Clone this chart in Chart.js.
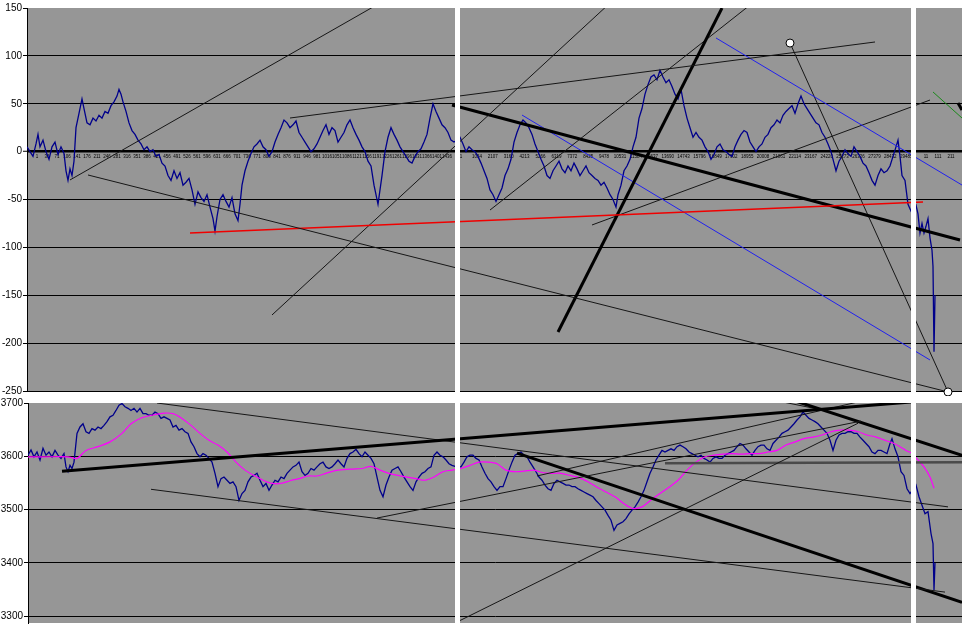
<!DOCTYPE html>
<html><head><meta charset="utf-8">
<script src="https://cdn.jsdelivr.net/npm/chart.js@4.4.1/dist/chart.umd.min.js"></script>
<style>
html,body{margin:0;padding:0;background:#fff;width:962px;height:626px;overflow:hidden}
#topc{position:absolute;left:0;top:0;width:962px;height:396px}
#botc{position:absolute;left:0;top:392px;width:962px;height:234px}
</style></head><body>
<canvas id="topc" width="962" height="396"></canvas>
<canvas id="botc" width="962" height="234"></canvas>
<script>
// ---------- upper panel: spread series ----------
const topIdx = [
27,30,33,36,38,40,43,46,49,52,
55,58,61,64,66,68,70,72,74,76,
79,82,84,87,90,93,96,99,102,105,
108,111,114,117,119,121,123,126,129,132,
135,138,141,144,147,150,153,156,159,162,
165,168,171,174,177,180,183,186,189,192,
195,198,201,204,207,210,213,215,217,220,
223,226,229,232,235,238,240,242,245,248,
251,254,257,260,263,266,269,272,275,278,
281,284,287,290,293,296,299,302,305,308,
311,314,317,320,323,326,329,332,335,338,
341,344,347,350,353,356,359,362,365,368,
371,374,376,378,380,382,385,388,391,394,
397,400,403,406,409,412,415,418,421,424,
427,430,433,436,439,442,445,448,451,454,
457,460,463,466,469,472,475,478,481,484,
487,490,493,496,499,502,505,508,511,514,
517,520,523,526,529,532,535,538,541,544,
547,550,553,556,559,562,565,568,571,574,
577,580,583,586,589,592,595,598,601,604,
607,610,613,616,618,621,624,627,630,633,
636,639,642,645,648,651,654,657,660,663,
666,669,672,675,678,681,684,687,690,693,
696,699,702,705,708,711,714,717,720,723,
726,729,732,735,738,741,744,747,750,753,
756,759,762,765,768,771,774,777,780,783,
786,789,792,795,798,801,804,807,810,813,
816,819,822,825,828,831,834,836,839,842,
845,848,851,854,857,860,863,866,869,872,
875,878,881,884,887,890,893,896,898,900,
902,905,908,911,916,918,920,922,924,926,
928,930,932,933,934,935];
const topVal = [
5,0,-5,8,18,5,12,0,-8,5,
10,-3,5,-2,-20,-30,-18,-25,-10,25,
40,55,45,30,28,35,32,38,35,42,
40,48,52,58,65,60,52,42,30,22,
18,12,8,2,5,0,2,-5,-3,-12,
-15,-25,-30,-20,-28,-22,-35,-32,-28,-40,
-55,-42,-48,-52,-45,-58,-70,-83,-68,-50,
-45,-52,-58,-48,-65,-72,-55,-35,-20,-10,
-2,5,8,12,5,2,-5,0,10,18,
25,33,30,25,28,32,20,15,10,5,
0,3,8,15,22,28,18,25,22,10,
15,20,28,33,25,18,12,5,0,-10,
-15,-35,-45,-55,-40,-25,0,15,25,18,
12,5,0,-5,-10,-12,-5,0,3,10,
18,35,50,42,35,28,25,20,12,10,
12,15,8,0,5,2,0,-5,-12,-20,
-28,-40,-45,-52,-45,-38,-25,-18,-8,10,
20,28,33,30,25,18,8,0,-8,-15,
-25,-28,-20,-15,-10,-18,-22,-15,-20,-12,
-18,-25,-20,-15,-22,-25,-28,-30,-35,-32,
-38,-45,-50,-58,-45,-35,-20,-15,-8,5,
15,35,45,60,70,78,80,75,85,78,
72,75,68,60,55,65,48,35,25,15,
20,15,12,5,0,-8,-3,5,8,2,
0,-3,-5,5,12,18,22,20,10,5,
0,5,8,15,18,25,28,33,30,38,
42,45,48,40,50,58,50,45,40,35,
30,28,20,15,8,0,-12,-20,-10,-5,
2,-2,-5,5,0,-5,-12,-15,-22,-30,
-35,-25,-18,-22,-20,-15,-5,5,12,-5,
-25,-30,-55,-62,-56,-65,-85,-75,-85,-78,
-70,-90,-103,-120,-209,-150];

// ---------- lower panel: price and moving average ----------
const botIdx = [
28,31,34,37,40,43,46,49,52,55,
58,61,64,66,68,70,72,74,77,80,
83,86,89,92,95,98,101,104,107,110,
113,116,119,122,125,128,131,134,137,140,
143,146,149,152,155,158,161,164,167,170,
173,176,179,182,185,188,191,194,197,200,
203,206,209,212,215,218,221,224,227,230,
233,236,239,242,245,248,251,254,257,260,
263,266,269,272,275,278,281,284,287,290,
293,296,299,302,305,308,311,314,317,320,
323,326,329,332,335,338,341,344,347,350,
353,356,359,362,365,368,371,374,377,380,
383,386,389,392,395,398,401,404,407,410,
413,416,419,422,425,428,431,434,437,440,
443,446,449,452,455,461,464,467,470,473,
476,479,482,485,488,491,494,497,500,503,
506,509,512,515,518,521,524,527,530,533,
536,539,542,545,548,551,554,557,560,563,
566,569,572,575,578,581,584,587,590,593,
596,599,602,605,608,611,614,617,620,623,
626,629,632,635,638,641,644,647,650,653,
656,659,662,665,668,671,674,677,680,683,
686,689,692,695,698,701,704,707,710,713,
716,719,722,725,728,731,734,737,740,743,
746,749,752,755,758,761,764,767,770,773,
776,779,782,785,788,791,794,797,800,803,
806,809,812,815,818,821,824,827,830,833,
836,839,842,845,848,851,854,857,860,863,
866,869,872,875,878,881,884,887,890,892,
895,898,901,904,907,910,916,919,922,925,
928,931,933,934,935];
const botPrice = [
3602,3612,3599,3608,3593,3615,3602,3608,3599,3611,
3602,3596,3605,3580,3571,3583,3577,3589,3643,3655,
3661,3646,3643,3652,3649,3655,3652,3658,3665,3674,
3677,3686,3696,3699,3693,3690,3686,3690,3683,3690,
3680,3680,3677,3677,3683,3680,3671,3674,3671,3668,
3655,3658,3649,3652,3646,3643,3627,3618,3605,3599,
3605,3602,3596,3589,3568,3543,3558,3561,3555,3549,
3552,3543,3517,3530,3536,3552,3561,3564,3568,3555,
3543,3549,3536,3546,3555,3552,3561,3558,3568,3574,
3580,3583,3589,3571,3564,3568,3577,3574,3580,3586,
3589,3580,3577,3580,3586,3593,3586,3580,3596,3605,
3608,3613,3605,3599,3608,3602,3596,3586,3561,3536,
3524,3546,3561,3574,3577,3580,3571,3561,3552,3543,
3536,3552,3561,3568,3571,3577,3580,3602,3608,3602,
3599,3593,3586,3583,3581,3580,3589,3599,3602,3602,
3596,3593,3580,3568,3558,3552,3543,3536,3543,3543,
3558,3574,3589,3602,3605,3608,3602,3599,3589,3580,
3571,3561,3555,3546,3539,3536,3549,3555,3552,3549,
3546,3546,3543,3543,3539,3536,3533,3530,3527,3524,
3517,3511,3505,3499,3489,3480,3461,3471,3474,3477,
3483,3492,3499,3505,3514,3524,3536,3552,3568,3580,
3593,3602,3611,3608,3611,3614,3611,3618,3621,3618,
3614,3608,3605,3602,3599,3602,3596,3593,3589,3596,
3599,3596,3596,3602,3605,3608,3611,3618,3624,3621,
3614,3608,3602,3611,3618,3621,3621,3614,3611,3624,
3630,3636,3643,3646,3649,3655,3661,3668,3674,3683,
3677,3671,3668,3665,3661,3655,3649,3643,3630,3611,
3630,3640,3643,3643,3646,3646,3643,3643,3636,3630,
3624,3618,3608,3605,3611,3611,3608,3605,3624,3633,
3614,3599,3571,3564,3539,3530,3546,3524,3508,3492,
3496,3455,3436,3349,3400];
const maIdx = [
27,44,68,77,86,98,110,122,131,140,
152,164,173,182,191,200,209,218,227,236,
245,254,263,272,281,290,299,308,317,326,
335,344,353,362,371,380,389,398,407,416,
425,434,443,452,461,470,479,488,497,506,
515,524,534,543,552,561,570,579,588,597,
606,615,624,633,642,651,660,669,678,687,
696,705,714,723,732,741,750,759,768,777,
786,795,804,813,822,831,840,849,858,867,
876,885,894,900,906,912,918,924,930,934];
const maPrice = [
3599,3599,3599,3596,3611,3618,3627,3643,3661,3671,
3677,3681,3680,3671,3658,3643,3630,3621,3608,3589,
3574,3564,3555,3549,3549,3554,3558,3563,3563,3568,
3573,3575,3576,3577,3581,3574,3568,3564,3561,3558,
3555,3561,3571,3574,3577,3583,3589,3589,3586,3574,
3571,3572,3574,3569,3568,3568,3564,3560,3552,3542,
3533,3524,3511,3502,3505,3518,3530,3542,3555,3574,
3589,3599,3602,3604,3605,3604,3605,3605,3608,3611,
3621,3627,3633,3636,3640,3646,3649,3649,3646,3640,
3636,3630,3624,3618,3611,3605,3593,3580,3561,3540];

// ---------- category axis labels of the upper panel ----------
const topTickX = [
37,47,57,67,77,87,97,107,117,127,137,147,157,167,177,187,197,207,217,227,
237,247,257,267,277,287,297,307,317,327,337,347,357,367,377,387,397,407,417,427,437,447,
461,476.9,492.8,508.7,524.6,540.5,556.4,572.3,588.2,604.1,620,635.9,651.8,667.7,683.6,
699.5,715.4,731.3,747.2,763.1,779,794.9,810.8,826.7,842.6,858.5,874.4,890.3,906.2,
926,938,951];
const topTickLabels = [
'1','36','71','106','141','176','211','246','281','316','351','386','421','456','491','526','561','596','631','666',
'701','736','771','806','841','876','911','946','981','1016','1051','1086','1121','1156','1191','1226','1261','1296','1331','1366','1401','1436',
'1','1054','2107','3160','4213','5266','6319','7372','8425','9478','10531','11584','12637','13690','14743',
'15796','16849','17902','18955','20008','21061','22114','23167','24220','25273','26326','27379','28432','29485',
'11','111','211'];

// ---------- trend lines: [x1, y1, x2, y2] ----------
const topLines = [
[70,-29.6,380,155.2],[88,-24.4,948,-251],[190,-85,923,-52.6],[272,-170.6,610,155.2],
[290,35.1,875,114.5],[452,48.7,960,-92.3],[558,-188.4,722,150],[490,-61,750,153.1],
[522,38.2,930,-217.6],[716,118.7,962,-34.9],[592,-76.6,930,53.9],[790,113.4,948,-251],
[933,62.3,962,35.1],[958,50.8,962,43.5]];
const topLineKinds = ['thin','thin','red','thin','thin','thick','thick','thin','blue','blue','thin','thin','green','thick'];
const topMarkers = [[790,113.4],[948,-251]];
const botLines = [
[62,3572,938,3706],[157,3700,948,3505],[151,3538,945,3345],[377,3484,861,3666],
[517,3606,962,3326],[455,3287,858,3662],[537,3563,962,3747],[762,3724,962,3602],
[665,3587,962,3589],[725,3724,822,3687]];
const botLineKinds = ['thick','thin','thin','thin','thick','thin','thin','thick','gray','thin'];

// ---------- drawing ----------
const lineStyles = {
  thin:{color:'#161616',width:1}, thick:{color:'#000',width:3},
  blue:{color:'#2020f0',width:1}, red:{color:'#f00000',width:1.3},
  green:{color:'#1a8a1a',width:1}, gray:{color:'#4a4a4a',width:2.5}
};
const panelGaps = [[455,460],[911,916]];
const FONT = '"Liberation Sans Narrow","Liberation Sans",Arial,sans-serif';

const bgPlugin = {id:'bg', beforeDraw(c){const a=c.chartArea,x=c.ctx;x.save();x.fillStyle='#969696';x.fillRect(a.left,a.top,a.right-a.left,a.bottom-a.top);x.restore();}};
const sepPlugin = {id:'sep', afterDatasetsDraw(c){const s=c.scales.x,x=c.ctx;x.save();x.fillStyle='#fff';
  for(const [a,b] of panelGaps){const pa=s.getPixelForValue(a),pb=s.getPixelForValue(b);x.fillRect(pa,0,pb-pa,c.height);}x.restore();}};
// category labels sitting just under the zero line (Excel axis crossing at 0)
const catLabelPlugin = {id:'catLabels', beforeDatasetsDraw(c){
  const sx=c.scales.x, sy=c.scales.y, x=c.ctx, y0=sy.getPixelForValue(0)+3;
  x.save(); x.fillStyle='#000'; x.font='4.5px '+FONT; x.textAlign='center'; x.textBaseline='top';
  topTickX.forEach((v,i)=>x.fillText(topTickLabels[i], sx.getPixelForValue(v), y0));
  x.restore();}};

function lineSets(lines, kinds){
  return lines.map((l,i)=>({data:[{x:l[0],y:l[1]},{x:l[2],y:l[3]}],borderColor:lineStyles[kinds[i]].color,
    borderWidth:lineStyles[kinds[i]].width,pointRadius:0,fill:false,tension:0,order:0}));
}
const zip = (a,b)=>a.map((v,i)=>({x:v,y:b[i]}));

new Chart(document.getElementById('topc'),{
  type:'line',
  data:{datasets:[
    {data:zip(topIdx,topVal),borderColor:'#00008b',borderWidth:1.3,pointRadius:0,tension:0,order:2},
    ...lineSets(topLines,topLineKinds),
    {data:topMarkers.map(p=>({x:p[0],y:p[1]})),showLine:false,pointRadius:4,pointBackgroundColor:'#fff',
     pointBorderColor:'#000',pointBorderWidth:1,clip:false,order:-1}
  ]},
  options:{responsive:false,animation:false,devicePixelRatio:1,
    layout:{autoPadding:false,padding:{top:8,bottom:5,left:0,right:0}},
    plugins:{legend:{display:false},tooltip:{enabled:false}},
    scales:{
      x:{type:'linear',min:27,max:962,display:false},
      y:{min:-250,max:150,
        ticks:{stepSize:50,color:'#000',padding:1,font:{family:FONT,size:10},callback:v=>String(v)},
        grid:{color:c=>c.tick&&c.tick.value===150?'rgba(0,0,0,0)':'#000',
              lineWidth:c=>c.tick&&c.tick.value===0?2.5:1,tickLength:4,tickColor:'#000',tickWidth:1},
        border:{color:'#000',width:1},
        afterFit:s=>{s.width=27;s.paddingTop=0;s.paddingBottom=0;}}
    }},
  plugins:[bgPlugin,catLabelPlugin,sepPlugin]
});

new Chart(document.getElementById('botc'),{
  type:'line',
  data:{datasets:[
    {data:zip(botIdx,botPrice),borderColor:'#00008b',borderWidth:1.3,pointRadius:0,tension:0,order:2},
    {data:zip(maIdx,maPrice),borderColor:'#ff00ff',borderWidth:1.2,pointRadius:0,tension:0.3,order:1},
    ...lineSets(botLines,botLineKinds)
  ]},
  options:{responsive:false,animation:false,devicePixelRatio:1,
    layout:{autoPadding:false,padding:{top:11,bottom:3,left:0,right:0}},
    plugins:{legend:{display:false},tooltip:{enabled:false}},
    scales:{
      x:{type:'linear',min:28,max:962,display:false},
      y:{min:3287,max:3700,
        ticks:{stepSize:100,includeBounds:false,color:'#000',padding:1,font:{family:FONT,size:10},callback:v=>String(v)},
        grid:{color:c=>c.tick&&c.tick.value===3700?'rgba(0,0,0,0)':'#000',lineWidth:1,tickLength:4,tickColor:'#000'},
        border:{color:'#000',width:1},
        afterFit:s=>{s.width=28;s.paddingTop=0;s.paddingBottom=0;}}
    }},
  plugins:[bgPlugin,sepPlugin]
});
</script></body></html>
